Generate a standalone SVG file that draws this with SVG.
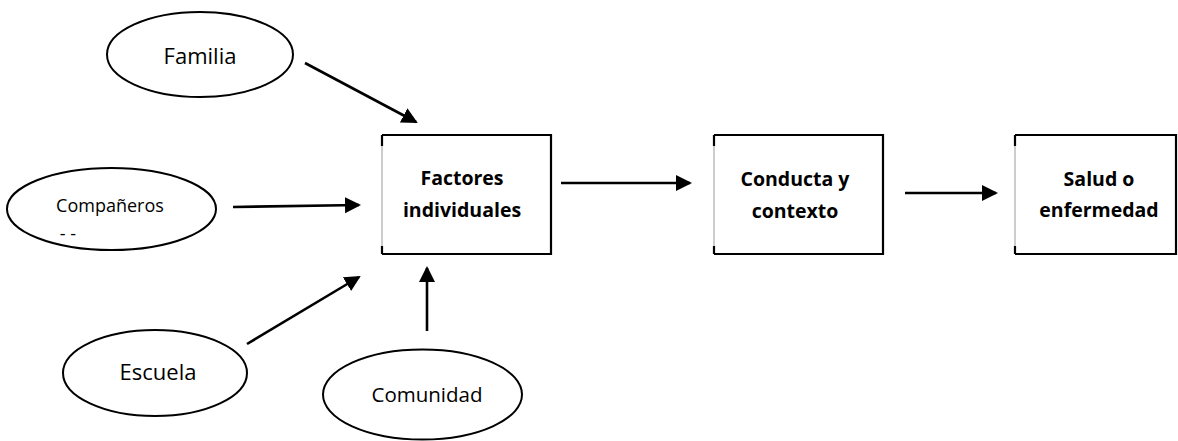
<svg xmlns="http://www.w3.org/2000/svg" width="1178" height="441" viewBox="0 0 1178 441">
  <style>
    .oval { fill: #fff; stroke: #000; stroke-width: 2; }
    .edge { fill: none; stroke: #000; stroke-width: 2.2; }
    .thin { fill: none; stroke: #9a9a9a; stroke-width: 1; }
    .tick { fill: none; stroke: #000; stroke-width: 2.2; }
    .lbl { font-family: "Open Sans", "Liberation Sans", sans-serif; fill: #000; text-anchor: middle; }
    .bold { font-family: "Open Sans", "Liberation Sans", sans-serif; font-weight: bold; font-size: 19.5px; fill: #000; text-anchor: middle; }
    .link { fill: none; stroke: #000; stroke-width: 2.6; marker-end: url(#head); }
  </style>
  <defs>
    <marker id="head" markerUnits="userSpaceOnUse" markerWidth="17" markerHeight="17" refX="14" refY="8" orient="auto">
      <path d="M0,0 L16,8 L0,16 z" fill="#000"/>
    </marker>
  </defs>

  <rect width="1178" height="441" fill="#fff"/>

  <!-- influences -->
  <g id="familia">
    <ellipse class="oval" cx="200" cy="54.5" rx="93" ry="42.5"/>
    <text class="lbl" x="200" y="64" font-size="22">Familia</text>
  </g>

  <g id="companeros">
    <ellipse class="oval" cx="111.5" cy="209" rx="104.5" ry="41"/>
    <text class="lbl" x="110" y="211.5" font-size="18">Compañeros</text>
    <text class="lbl" x="68" y="240" font-size="18">- -</text>
  </g>

  <g id="escuela">
    <ellipse class="oval" cx="155" cy="373" rx="92" ry="43"/>
    <text class="lbl" x="158" y="380" font-size="22">Escuela</text>
  </g>

  <g id="comunidad">
    <ellipse class="oval" cx="422.5" cy="394.5" rx="99.5" ry="45"/>
    <text class="lbl" x="427" y="402" font-size="20.5">Comunidad</text>
  </g>

  <!-- chain of boxes -->
  <g id="factores">
    <rect x="382" y="135" width="169" height="119" fill="#fff" stroke="none"/>
    <path class="thin" d="M382,135 V254"/>
    <path class="edge" d="M382,135 H551 V254 H382"/>
    <path class="tick" d="M382,135 V146 M382,254 V246"/>
    <text class="bold" x="462" y="185">Factores</text>
    <text class="bold" x="462" y="217">individuales</text>
  </g>

  <g id="conducta">
    <rect x="714" y="135" width="169" height="119" fill="#fff" stroke="none"/>
    <path class="thin" d="M714,135 V254"/>
    <path class="edge" d="M714,135 H883 V254 H714"/>
    <path class="tick" d="M714,135 V146 M714,254 V246"/>
    <text class="bold" x="795" y="186">Conducta y</text>
    <text class="bold" x="795" y="218">contexto</text>
  </g>

  <g id="salud">
    <rect x="1015" y="135" width="161" height="119" fill="#fff" stroke="none"/>
    <path class="thin" d="M1015,135 V254"/>
    <path class="edge" d="M1015,135 H1176 V254 H1015"/>
    <path class="tick" d="M1015,135 V146 M1015,254 V246"/>
    <text class="bold" x="1099" y="186">Salud o</text>
    <text class="bold" x="1099" y="217">enfermedad</text>
  </g>

  <!-- connectors -->
  <g id="connectors">
    <line class="link" x1="305" y1="63" x2="416" y2="122"/>
    <line class="link" x1="233" y1="207" x2="359" y2="205"/>
    <line class="link" x1="247" y1="344" x2="359" y2="277"/>
    <line class="link" x1="427" y1="331" x2="427" y2="268"/>
    <line class="link" x1="561" y1="183" x2="690" y2="183"/>
    <line class="link" x1="905" y1="193" x2="996" y2="193"/>
  </g>
</svg>
